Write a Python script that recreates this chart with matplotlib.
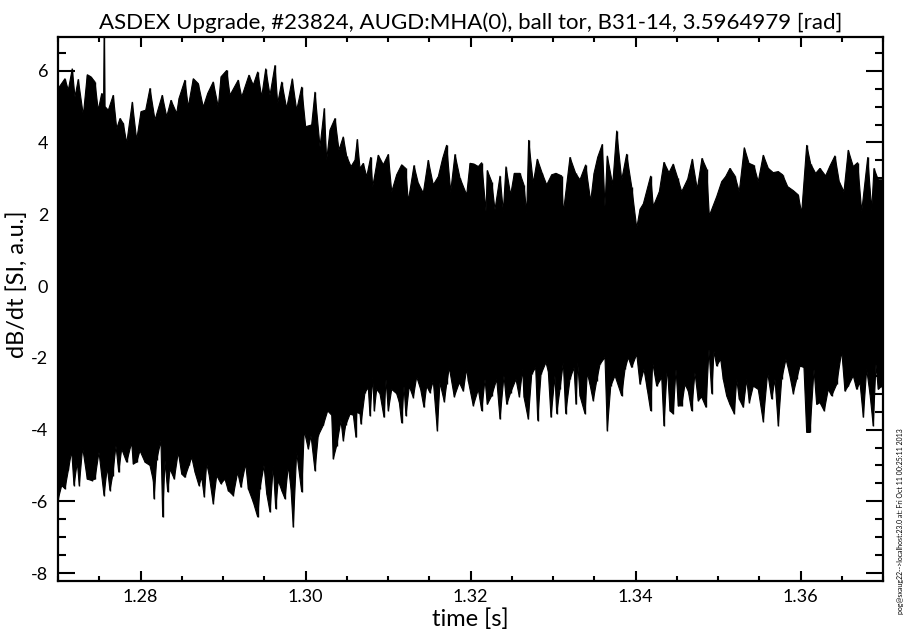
import numpy as np
import matplotlib
matplotlib.use("Agg")
import matplotlib.pyplot as plt
from matplotlib.ticker import MultipleLocator

plt.rcParams['font.family'] = ['Lato', 'DejaVu Sans']

title = "ASDEX Upgrade, #23824, AUGD:MHA(0), ball tor, B31-14, 3.5964979 [rad]"
xlabel = "time [s]"
ylabel = "dB/dt [SI, a.u.]"
side_note = "pog@sxaug22-->localhost:23.0 at: Fri Oct 11 00:25:11 2013"

# upper envelope of the signal (time [s], value)
t_up = [1.27000, 1.27004, 1.27085, 1.27125, 1.27173, 1.27206, 1.27246, 1.27307, 1.27355, 1.27400,
        1.27448, 1.27488, 1.27530, 1.27552, 1.27561, 1.27570, 1.27610, 1.27670, 1.27712, 1.27752,
        1.27792, 1.27833, 1.27901, 1.27954, 1.28006, 1.28063, 1.28115, 1.28176, 1.28264, 1.28318,
        1.28370, 1.28439, 1.28467, 1.28539, 1.28579, 1.28640, 1.28701, 1.28761, 1.28815, 1.28882,
        1.28943, 1.28976, 1.29045, 1.29085, 1.29185, 1.29227, 1.29315, 1.29367, 1.29421, 1.29469,
        1.29518, 1.29570, 1.29630, 1.29663, 1.29712, 1.29772, 1.29840, 1.29893, 1.29954, 1.30002,
        1.30075, 1.30115, 1.30176, 1.30228, 1.30257, 1.30297, 1.30358, 1.30406, 1.30458, 1.30500,
        1.30552, 1.30600, 1.30628, 1.30661, 1.30701, 1.30742, 1.30790, 1.30815, 1.30882, 1.30943,
        1.31004, 1.31045, 1.31105, 1.31166, 1.31215, 1.31246, 1.31315, 1.31367, 1.31428, 1.31488,
        1.31549, 1.31610, 1.31663, 1.31711, 1.31760, 1.31812, 1.31873, 1.31954, 1.31994, 1.32042,
        1.32095, 1.32136, 1.32188, 1.32204, 1.32257, 1.32297, 1.32358, 1.32398, 1.32430, 1.32487,
        1.32531, 1.32600, 1.32648, 1.32681, 1.32705, 1.32761, 1.32810, 1.32870, 1.32924, 1.32984,
        1.33036, 1.33105, 1.33125, 1.33206, 1.33275, 1.33327, 1.33396, 1.33457, 1.33497, 1.33542,
        1.33598, 1.33630, 1.33658, 1.33724, 1.33772, 1.33833, 1.33893, 1.33954, 1.34015, 1.34055,
        1.34095, 1.34184, 1.34216, 1.34289, 1.34345, 1.34406, 1.34458, 1.34512, 1.34560, 1.34633,
        1.34689, 1.34749, 1.34806, 1.34863, 1.34895, 1.34984, 1.35045, 1.35093, 1.35145, 1.35206,
        1.35258, 1.35319, 1.35376, 1.35436, 1.35488, 1.35549, 1.35610, 1.35670, 1.35731, 1.35784,
        1.35845, 1.35913, 1.35973, 1.36014, 1.36075, 1.36124, 1.36184, 1.36236, 1.36305, 1.36358,
        1.36418, 1.36470, 1.36527, 1.36579, 1.36640, 1.36693, 1.36742, 1.36815, 1.36863, 1.36891,
        1.36943, 1.37000]
v_up = [5.40, 5.51, 5.78, 5.46, 6.06, 5.27, 5.76, 4.76, 5.89, 5.83,
        5.69, 4.90, 5.37, 5.00, 7.20, 5.00, 4.90, 5.32, 4.39, 4.67,
        4.53, 3.98, 5.13, 4.07, 4.86, 4.90, 5.51, 4.63, 5.32, 4.72,
        5.18, 4.81, 5.23, 5.74, 4.99, 5.78, 5.64, 4.99, 5.37, 5.69,
        4.99, 5.83, 6.01, 5.32, 5.74, 5.27, 5.88, 5.60, 5.97, 5.27,
        6.06, 5.32, 6.15, 5.09, 5.69, 4.95, 5.78, 4.90, 5.55, 4.44,
        4.49, 5.41, 3.88, 4.95, 3.51, 4.35, 4.67, 3.79, 4.16, 3.61,
        3.33, 3.51, 4.09, 3.28, 3.42, 3.05, 3.59, 2.77, 3.65, 3.38,
        3.67, 2.63, 3.10, 3.38, 3.28, 2.36, 3.36, 2.87, 2.59, 3.51,
        2.82, 3.05, 3.56, 3.93, 2.63, 3.67, 3.01, 2.54, 3.42, 3.40,
        3.33, 3.44, 2.08, 3.22, 2.91, 2.13, 3.07, 2.08, 3.33, 2.54,
        3.14, 3.14, 2.82, 2.03, 4.07, 2.87, 3.54, 3.14, 2.82, 3.10,
        3.14, 3.07, 2.03, 3.59, 3.14, 2.96, 3.38, 2.36, 3.14, 3.59,
        3.95, 2.22, 3.63, 2.82, 4.33, 2.96, 3.68, 2.77, 1.62, 2.14,
        2.29, 3.07, 2.22, 2.63, 3.45, 3.16, 3.40, 3.01, 2.63, 2.98,
        3.54, 2.70, 3.56, 3.26, 1.96, 2.49, 2.91, 3.05, 3.28, 3.07,
        2.63, 3.86, 3.42, 3.36, 2.91, 3.65, 3.28, 3.16, 3.19, 3.10,
        2.77, 2.66, 2.54, 2.03, 3.93, 3.40, 3.14, 3.28, 3.07, 3.35,
        3.63, 2.91, 2.63, 3.79, 3.33, 3.44, 2.08, 3.59, 2.13, 3.28,
        2.96, 2.96]

# lower envelope of the signal (time [s], value)
t_lo = [1.27000, 1.27004, 1.27045, 1.27085, 1.27125, 1.27166, 1.27194, 1.27234, 1.27258, 1.27299,
        1.27355, 1.27408, 1.27448, 1.27497, 1.27558, 1.27598, 1.27630, 1.27663, 1.27703, 1.27736,
        1.27772, 1.27833, 1.27893, 1.27913, 1.27954, 1.27994, 1.28055, 1.28115, 1.28155, 1.28164,
        1.28196, 1.28248, 1.28269, 1.28297, 1.28330, 1.28358, 1.28410, 1.28458, 1.28500, 1.28539,
        1.28588, 1.28621, 1.28661, 1.28709, 1.28742, 1.28773, 1.28802, 1.28830, 1.28882, 1.28924,
        1.28976, 1.29024, 1.29064, 1.29125, 1.29178, 1.29218, 1.29275, 1.29307, 1.29367, 1.29421,
        1.29448, 1.29497, 1.29530, 1.29570, 1.29610, 1.29639, 1.29670, 1.29712, 1.29752, 1.29792,
        1.29824, 1.29852, 1.29893, 1.29954, 1.29985, 1.30034, 1.30067, 1.30115, 1.30155, 1.30216,
        1.30269, 1.30318, 1.30337, 1.30378, 1.30430, 1.30458, 1.30487, 1.30540, 1.30580, 1.30612,
        1.30621, 1.30661, 1.30673, 1.30721, 1.30761, 1.30782, 1.30815, 1.30834, 1.30863, 1.30903,
        1.30952, 1.30976, 1.31004, 1.31045, 1.31105, 1.31137, 1.31166, 1.31194, 1.31218, 1.31258,
        1.31307, 1.31348, 1.31396, 1.31436, 1.31469, 1.31509, 1.31549, 1.31598, 1.31630, 1.31683,
        1.31711, 1.31743, 1.31804, 1.31865, 1.31913, 1.31954, 1.31973, 1.32034, 1.32095, 1.32136,
        1.32176, 1.32204, 1.32257, 1.32318, 1.32358, 1.32406, 1.32439, 1.32487, 1.32552, 1.32592,
        1.32633, 1.32648, 1.32701, 1.32742, 1.32790, 1.32815, 1.32855, 1.32915, 1.32943, 1.32976,
        1.33024, 1.33045, 1.33085, 1.33125, 1.33154, 1.33206, 1.33255, 1.33279, 1.33300, 1.33327,
        1.33388, 1.33416, 1.33448, 1.33488, 1.33530, 1.33570, 1.33630, 1.33658, 1.33700, 1.33752,
        1.33833, 1.33873, 1.33913, 1.33954, 1.34015, 1.34055, 1.34103, 1.34143, 1.34184, 1.34208,
        1.34257, 1.34318, 1.34345, 1.34386, 1.34418, 1.34458, 1.34491, 1.34519, 1.34560, 1.34600,
        1.34640, 1.34681, 1.34721, 1.34761, 1.34802, 1.34855, 1.34891, 1.34924, 1.34952, 1.34984,
        1.35033, 1.35064, 1.35105, 1.35145, 1.35198, 1.35227, 1.35258, 1.35307, 1.35348, 1.35380,
        1.35428, 1.35488, 1.35549, 1.35602, 1.35651, 1.35691, 1.35731, 1.35772, 1.35824, 1.35864,
        1.35913, 1.35954, 1.35994, 1.36042, 1.36075, 1.36115, 1.36164, 1.36196, 1.36236, 1.36288,
        1.36337, 1.36378, 1.36439, 1.36500, 1.36539, 1.36579, 1.36640, 1.36681, 1.36721, 1.36762,
        1.36802, 1.36842, 1.36882, 1.36915, 1.36943, 1.36984, 1.37000]
v_lo = [-5.80, -5.93, -5.56, -5.65, -5.14, -4.59, -5.56, -4.91, -5.56, -4.50,
        -5.38, -5.42, -5.38, -4.63, -5.84, -5.05, -5.70, -5.28, -4.45, -5.19,
        -4.54, -4.91, -4.36, -4.96, -4.91, -4.59, -4.91, -5.00, -5.42, -5.93,
        -4.85, -4.31, -6.44, -4.86, -5.74, -5.10, -5.38, -4.63, -5.24, -5.33,
        -5.00, -4.77, -5.19, -5.56, -5.33, -5.88, -4.95, -5.24, -6.07, -5.28,
        -5.51, -5.38, -5.70, -5.84, -5.19, -5.61, -4.95, -5.65, -6.02, -6.44,
        -5.65, -5.00, -5.79, -6.30, -5.00, -6.21, -5.42, -5.70, -5.93, -5.00,
        -5.65, -6.72, -4.63, -5.74, -4.03, -4.54, -4.17, -5.15, -4.17, -3.88,
        -3.48, -3.60, -4.82, -4.45, -3.75, -4.31, -3.88, -3.57, -3.60, -4.22,
        -3.52, -3.56, -3.85, -2.97, -2.83, -3.62, -2.53, -3.48, -2.88, -3.00,
        -3.66, -2.60, -3.48, -2.88, -3.00, -3.24, -3.82, -2.79, -3.62, -2.79,
        -3.11, -2.53, -2.88, -3.38, -2.79, -2.97, -2.64, -4.03, -2.69, -3.23,
        -2.74, -2.27, -3.09, -2.69, -2.93, -2.30, -2.64, -3.34, -2.88, -3.48,
        -2.60, -3.30, -3.06, -2.60, -3.71, -2.50, -3.30, -2.97, -2.60, -3.09,
        -2.32, -3.09, -3.71, -2.46, -2.27, -3.75, -2.46, -2.13, -2.38, -3.66,
        -2.50, -3.56, -2.88, -2.13, -3.56, -2.60, -2.27, -3.30, -2.13, -3.06,
        -3.56, -2.41, -2.74, -3.20, -2.64, -2.18, -1.99, -4.03, -2.79, -2.50,
        -3.06, -2.32, -1.99, -2.27, -1.90, -2.74, -2.32, -2.88, -3.48, -2.13,
        -2.79, -2.55, -3.90, -2.23, -3.48, -3.56, -2.32, -3.34, -3.34, -2.74,
        -2.93, -3.48, -2.41, -3.20, -3.09, -3.38, -1.76, -3.00, -1.81, -2.23,
        -2.04, -2.60, -3.06, -3.30, -3.56, -2.60, -3.15, -3.38, -2.60, -3.25,
        -2.79, -2.88, -3.78, -2.41, -3.15, -2.60, -3.90, -2.60, -2.04, -2.41,
        -3.00, -2.60, -2.23, -2.27, -4.08, -4.08, -2.32, -3.30, -3.25, -3.48,
        -2.88, -3.06, -2.74, -1.81, -2.93, -2.79, -2.50, -2.88, -2.69, -3.66,
        -2.32, -3.00, -3.90, -2.18, -2.88, -2.79, -2.88]

x_ticks = [1.28, 1.30, 1.32, 1.34, 1.36]
x_ticklabels = ["1.28", "1.30", "1.32", "1.34", "1.36"]
y_ticks = [-8, -6, -4, -2, 0, 2, 4, 6]
y_ticklabels = ["-8", "-6", "-4", "-2", "0", "2", "4", "6"]

fig = plt.figure(figsize=(9.08, 6.39), dpi=100)
ax = fig.add_axes([58/908, 58/639, 825/908, 544/639])

poly_x = np.concatenate([t_up, t_lo[::-1]])
poly_y = np.concatenate([v_up, v_lo[::-1]])
ax.fill(poly_x, poly_y, color='black', lw=0.8, joinstyle='miter')
# needle-like spikes at each envelope sample
ax.vlines(t_up, 0, v_up, color='black', lw=1.0)
ax.vlines(t_lo, v_lo, 0, color='black', lw=1.0)

ax.set_xlim(1.27, 1.37)
ax.set_ylim(-8.22, 6.94)

ax.set_xticks(x_ticks)
ax.set_xticklabels(x_ticklabels)
ax.set_yticks(y_ticks)
ax.set_yticklabels(y_ticklabels)
ax.xaxis.set_minor_locator(MultipleLocator(0.005))
ax.yaxis.set_minor_locator(MultipleLocator(0.5))

for s in ax.spines.values():
    s.set_linewidth(1.6)

ax.tick_params(axis='x', which='major', direction='in', length=7.5, width=1.5,
               top=True, bottom=True, labelsize=13, pad=6)
ax.tick_params(axis='x', which='minor', direction='in', length=3.8, width=1.5,
               top=True, bottom=True)
ax.tick_params(axis='y', which='major', direction='in', length=12, width=1.5,
               left=True, right=True, labelsize=13, pad=7)
ax.tick_params(axis='y', which='minor', direction='in', length=6, width=1.5,
               left=True, right=True)

ax.set_title(title, fontsize=16, pad=6)
ax.set_xlabel(xlabel, fontsize=17, labelpad=2)
ax.set_ylabel(ylabel, fontsize=17)
ax.yaxis.set_label_coords(-0.036, 0.545)

fig.text(900/908, 1 - 521/639, side_note, rotation=90, fontsize=5,
         ha='center', va='center')

fig.savefig("out.png", dpi=100)
